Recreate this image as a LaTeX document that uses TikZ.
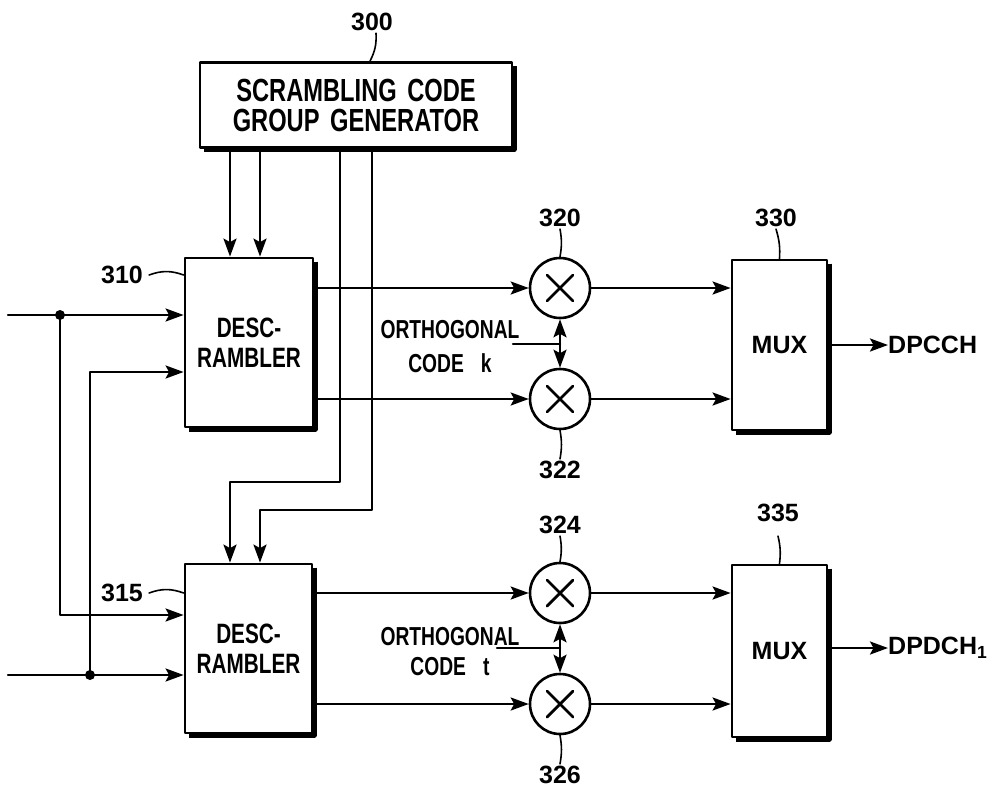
\documentclass[tikz,border=0pt]{standalone}
\usepackage{fontspec}
\newfontfamily\cond[FakeStretch=0.74,WordSpace=1.6]{Liberation Sans}
\newfontfamily\plain{Liberation Sans}
\usetikzlibrary{arrows.meta}
\newcommand\blkshadow[1]{\draw[line width=5pt,line cap=butt] ([xshift=0.6pt,yshift=-5pt]#1.north east) -- ([xshift=0.6pt,yshift=-0.6pt]#1.south east) -- ([xshift=5pt,yshift=-0.6pt]#1.south west);}
\begin{document}
\begin{tikzpicture}[x=1pt,y=-1pt, line cap=round, line join=round,
  wire/.style={line width=2.5pt},
  arr/.style={wire,-{Stealth[length=18pt,width=13pt,inset=3.5pt]}},
  blk/.style={draw,line width=2.8pt,inner sep=0pt,align=center},
  mult/.style={draw,circle,line width=2.6pt,minimum size=60pt,inner sep=0pt,
    path picture={
      \draw[line width=2.8pt] ([shift={(-13pt,-13pt)}]path picture bounding box.center) -- ([shift={(13pt,13pt)}]path picture bounding box.center);
      \draw[line width=2.8pt] ([shift={(-13pt,13pt)}]path picture bounding box.center) -- ([shift={(13pt,-13pt)}]path picture bounding box.center);}},
  num/.style={font=\plain\bfseries\fontsize{25}{25}\selectfont,inner sep=2pt},
  big/.style={font=\cond\bfseries\fontsize{32}{30}\selectfont},
  mid/.style={font=\cond\bfseries\fontsize{28}{30}\selectfont},
  ortho/.style={font=\cond\bfseries\fontsize{26}{26}\selectfont,inner sep=0pt},
  outlbl/.style={font=\plain\bfseries\fontsize{25}{25}\selectfont,inner sep=0pt,anchor=west},
  lead/.style={line width=1.6pt}]
\useasboundingbox (0,0) rectangle (987,793);

% blocks
\node[blk,big,minimum width=312pt,minimum height=85pt] (scg) at (356,105) {SCRAMBLING CODE\\GROUP GENERATOR};
\node[blk,mid,minimum width=128pt,minimum height=169pt] (d1) at (249,342.5) {DESC-\\RAMBLER};
\node[blk,mid,minimum width=127pt,minimum height=169pt] (d2) at (248.5,648.5) {DESC-\\RAMBLER};
\node[blk,font=\plain\bfseries\fontsize{25}{25}\selectfont,minimum width=95pt,minimum height=170pt] (mux1) at (779.5,345) {MUX};
\node[blk,font=\plain\bfseries\fontsize{25}{25}\selectfont,minimum width=95pt,minimum height=172pt] (mux2) at (779.5,651) {MUX};
\blkshadow{scg}
\blkshadow{d1}
\blkshadow{d2}
\blkshadow{mux1}
\blkshadow{mux2}

% multipliers
\node[mult] (m320) at (560,288) {};
\node[mult] (m322) at (560,399) {};
\node[mult] (m324) at (560,593) {};
\node[mult] (m326) at (560,704) {};

% scrambling code lines
\coordinate (xa) at (230,0);
\coordinate (xb) at (260,0);
\coordinate (xc) at (340,0);
\coordinate (xd) at (372,0);
\coordinate (tc) at (340,482);
\coordinate (td) at (372,510);
\draw[arr] (scg.south -| xa) -- (d1.north -| xa);
\draw[arr] (scg.south -| xb) -- (d1.north -| xb);
\draw[arr] (scg.south -| xc) -- (tc) -| (d2.north -| xa);
\draw[arr] (scg.south -| xd) -- (td) -| (d2.north -| xb);

% inputs
\coordinate (in1) at (8,315);
\coordinate (in2) at (8,675);
\coordinate (j1) at (60,315);
\coordinate (j2) at (90,675);
\coordinate (r1) at (90,372);
\coordinate (r2) at (60,615);
\draw[arr] (in1) -- (in1 -| d1.west);
\draw[arr] (in2) -- (in2 -| d2.west);
\draw[arr] (j1) -- (r2) -- (r2 -| d2.west);
\draw[arr] (j2) -- (r1) -- (r1 -| d1.west);
\fill (j1) circle (5pt);
\fill (j2) circle (5pt);

% descrambler -> multipliers -> mux
\draw[arr] (m320 -| d1.east) -- (m320.west);
\draw[arr] (m322 -| d1.east) -- (m322.west);
\draw[arr] (m324 -| d2.east) -- (m324.west);
\draw[arr] (m326 -| d2.east) -- (m326.west);
\draw[arr] (m320.east) -- (m320 -| mux1.west);
\draw[arr] (m322.east) -- (m322 -| mux1.west);
\draw[arr] (m324.east) -- (m324 -| mux2.west);
\draw[arr] (m326.east) -- (m326 -| mux2.west);

% orthogonal codes
\node[ortho] (ok1) at (450,330) {ORTHOGONAL};
\node[ortho] (ok2) at (450,363) {CODE\ \ k};
\coordinate (ks) at (513,344);
\coordinate (kc) at (560,344);
\draw[wire] (ks) -- (kc);
\draw[arr] (kc) -- (m320.south);
\draw[arr] (kc) -- (m322.north);
\node[ortho] (ot1) at (450,637) {ORTHOGONAL};
\node[ortho] (ot2) at (450,667) {CODE\ \ t};
\coordinate (ts) at (497,648);
\coordinate (tt) at (560,648);
\draw[wire] (ts) -- (tt);
\draw[arr] (tt) -- (m324.south);
\draw[arr] (tt) -- (m326.north);

% outputs
\node[outlbl] (o1) at (888,345) {DPCCH};
\node[outlbl] (o2) at (888,648) {DPDCH\textsubscript{1}};
\draw[arr] (o1 -| mux1.east) -- (o1.west);
\draw[arr] (mux2.east |- o2.west) -- (o2.west);

% reference numerals
\node[num] (n300) at (372,22) {300};
\draw[lead] ([xshift=4pt]n300.south) to[bend left=15] ([xshift=14pt]scg.north);
\node[num] (n310) at (122,275) {310};
\draw[lead] ([xshift=4pt]n310.east) to[bend left=20] (d1.west |- n310);
\node[num] (n315) at (122,593) {315};
\draw[lead] ([xshift=4pt]n315.east) to[bend left=20] (d2.west |- n315);
\node[num] (n320) at (560,218) {320};
\draw[lead] (n320.south) to[bend left=10] (m320.north);
\node[num] (n322) at (560,470) {322};
\draw[lead] (m322.south) to[bend left=10] (n322.north);
\node[num] (n324) at (560,525) {324};
\draw[lead] (n324.south) to[bend left=10] (m324.north);
\node[num] (n326) at (560,775) {326};
\draw[lead] (m326.south) to[bend left=10] (n326.north);
\node[num] (n330) at (776,218) {330};
\draw[lead] (n330.south) to[bend left=10] (mux1.north);
\node[num] (n335) at (778,513) {335};
\draw[lead] ([yshift=-12pt]n335.south) to[bend left=10] (mux2.north);
\end{tikzpicture}
\end{document}
